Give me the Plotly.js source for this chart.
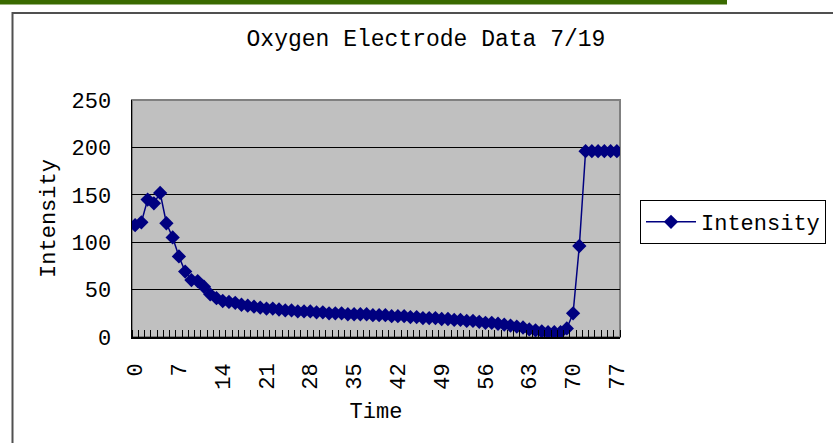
<!DOCTYPE html>
<html>
<head>
<meta charset="utf-8">
<script src="https://cdn.plot.ly/plotly-3.0.1.min.js"></script>
<style>
html,body{margin:0;padding:0;background:#fff;}
#chart{width:833px;height:443px;}
</style>
</head>
<body>
<div id="chart"></div>
<script>
const times = [];
for (let i = 0; i <= 77; i++) times.push(i);
const intensity = [118,121,145,141,152,120,105,85,69,60,
  59,53,45,41,38,37,36,34,33,32,
  31,30,30,29,28,28,27,27,27,26,
  26,25,25,25,24,24,24,24,23,23,
  23,22,22,22,21,21,20,20,20,19,
  19,18,18,17,17,16,15,15,14,13,
  12,11,10,8,7,6,5,5,5,9,
  25,96,196,196,196,196,196,196];
const xTickVals = [0,7,14,21,28,35,42,49,56,63,70,77];
const xTickText = ["0","7","14","21","28","35","42","49","56","63","70","77"];
const seriesName = "Intensity";
const chartTitle = "Oxygen Electrode Data 7/19";

const FONT = "Liberation Mono, DejaVu Sans Mono, monospace";
const W = 833, H = 443, L = 132, R = 620, T = 100, B = 337;
const px = v => (v - L) / (R - L);
const py = v => (B - v) / (B - T);

const trace = {
  x: times, y: intensity, type: 'scatter', mode: 'lines+markers',
  name: seriesName,
  line: {color: '#000080', width: 1.5},
  marker: {symbol: 'diamond', size: 11, color: '#000080'}
};

const layout = {
  width: W, height: H,
  margin: {l: L, r: W - R, t: T, b: H - B, pad: 0, autoexpand: false},
  paper_bgcolor: '#ffffff',
  plot_bgcolor: '#C0C0C0',
  font: {family: FONT, size: 22, color: '#000'},
  title: {text: chartTitle, font: {family: FONT, size: 23, color: '#000'},
    xref: 'container', yref: 'container', x: 426 / W, y: 1 - 38 / H,
    xanchor: 'center', yanchor: 'middle'},
  xaxis: {
    range: [-0.5, 77.5], tickmode: 'array', tickvals: xTickVals, ticktext: xTickText,
    tickangle: -90, ticks: '', showgrid: false, zeroline: false,
    showline: true, linecolor: '#000', linewidth: 1.5,
    ticklabelstandoff: 16, automargin: false,
    minor: {tick0: -0.5, dtick: 1, ticks: 'inside', ticklen: 7, tickcolor: '#000', tickwidth: 1, showgrid: false},
    title: {text: 'Time', font: {family: FONT, size: 22}, standoff: 14},
    tickfont: {family: FONT, size: 22}
  },
  yaxis: {
    range: [0, 250], dtick: 50, tick0: 0, ticks: 'inside', ticklen: 5, tickcolor: '#000',
    showgrid: true, gridcolor: '#000', gridwidth: 1, zeroline: false,
    showline: true, linecolor: '#000', linewidth: 1.5,
    ticklabelstandoff: 15, automargin: false,
    title: {text: 'Intensity', font: {family: FONT, size: 22}, standoff: 10},
    tickfont: {family: FONT, size: 22}
  },
  showlegend: true,
  legend: {x: px(640), y: py(200), xanchor: 'left', yanchor: 'top',
    bordercolor: '#000', borderwidth: 1, bgcolor: '#fff',
    font: {family: FONT, size: 22}, itemwidth: 50, tracegroupgap: 0},
  shapes: [
    {type: 'rect', xref: 'paper', yref: 'paper', x0: 0, x1: 1, y0: 0, y1: 1,
      line: {color: '#808080', width: 2}, layer: 'below'},
    {type: 'rect', xref: 'paper', yref: 'paper', x0: px(0), x1: px(727), y0: py(4.5), y1: py(0),
      line: {width: 0}, fillcolor: '#3a6a00'},
    {type: 'path', xref: 'paper', yref: 'paper',
      path: `M ${px(12.5)} ${py(460)} L ${px(12.5)} ${py(13)} L ${px(850)} ${py(13)}`,
      line: {color: '#505050', width: 2}}
  ]
};

Plotly.newPlot('chart', [trace], layout, {displayModeBar: false, staticPlot: true});
</script>
</body>
</html>
